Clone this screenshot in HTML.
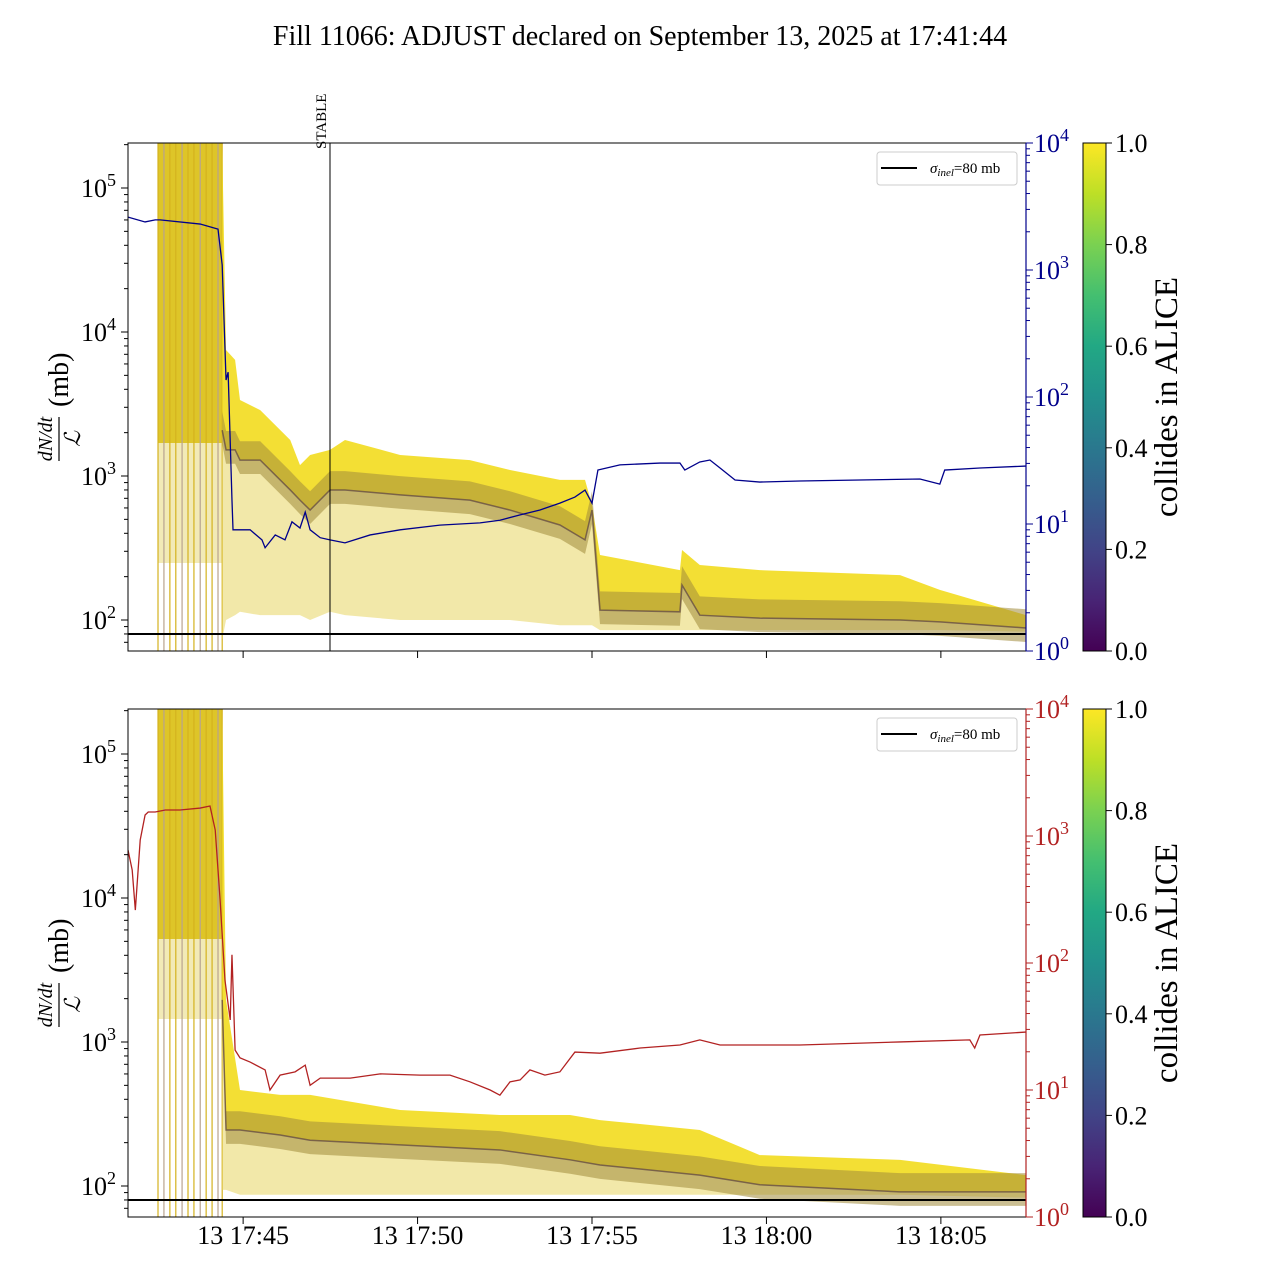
<!DOCTYPE html>
<html><head><meta charset="utf-8"><style>
html,body{margin:0;padding:0;background:#fff;}
svg text{font-family:"Liberation Serif","DejaVu Serif",serif;}
</style></head><body>
<svg id="chart" width="1280" height="1280" viewBox="0 0 1280 1280" xmlns="http://www.w3.org/2000/svg">
<defs>
<linearGradient id="viridis" x1="0" y1="1" x2="0" y2="0">
<stop offset="0" stop-color="#440154"/><stop offset="0.1" stop-color="#482475"/><stop offset="0.2" stop-color="#414487"/><stop offset="0.3" stop-color="#355f8d"/><stop offset="0.4" stop-color="#2a788e"/><stop offset="0.5" stop-color="#21918c"/><stop offset="0.6" stop-color="#22a884"/><stop offset="0.7" stop-color="#44bf70"/><stop offset="0.8" stop-color="#7ad151"/><stop offset="0.9" stop-color="#bddf26"/><stop offset="1" stop-color="#fde725"/>
</linearGradient>
</defs>
<text x="640" y="45" font-size="28" text-anchor="middle">Fill 11066: ADJUST declared on September 13, 2025 at 17:41:44</text>
</svg>
<script>
// ---- data (time in minutes after 17:40) ----
const blueTimes=[1.70,2.19,2.48,2.62,3.77,4.28,4.40,4.51,4.57,4.68,4.71,5.20,5.54,5.63,5.92,6.20,6.40,6.63,6.78,6.92,7.21,7.49,7.92,8.64,9.50,10.64,11.79,12.36,12.94,13.51,14.08,14.51,14.80,15.00,15.17,15.80,16.95,17.52,17.66,18.09,18.38,18.67,19.10,19.81,20.96,22.68,24.40,24.97,25.11,26.12,27.44];
const blueValues=[2610,2390,2480,2480,2300,2100,1095,136,157,15.5,9.0,9.0,7.5,6.5,8.2,7.5,10.4,9.3,12.4,9.0,7.8,7.5,7.1,8.2,9.0,9.8,10.2,10.7,11.8,12.9,14.6,16.3,18.5,14.6,26.6,29.2,30.2,30.2,26.6,30.8,31.9,27.6,22.2,21.4,21.8,22.2,22.6,20.6,26.6,27.6,28.6];
const redTimes=[1.70,1.82,1.91,2.05,2.19,2.28,2.48,2.77,3.19,3.77,4.05,4.20,4.34,4.48,4.63,4.68,4.77,4.91,5.20,5.63,5.77,6.06,6.49,6.78,6.92,7.21,8.07,8.93,10.07,10.93,11.50,12.08,12.36,12.65,12.94,13.22,13.65,14.08,14.51,15.23,16.38,17.52,18.09,18.67,19.81,20.96,23.83,25.83,25.97,26.12,27.44];
const redValues=[776,540,261,930,1463,1545,1545,1603,1603,1660,1722,1115,313,73,35.6,116,20.6,17.9,16.6,14.4,10,13.1,13.9,15.7,10.9,12.4,12.4,13.4,13.1,13.1,11.6,10,9.1,11.6,12,14.4,13.1,13.9,19.9,19.5,21.4,22.6,24.8,22.6,22.6,22.6,23.9,24.8,21.4,27.1,28.6];
const topBandTimes=[4.40,4.51,4.77,4.91,5.49,6.35,6.63,6.92,7.49,7.92,9.50,11.50,12.65,14.08,14.80,15.00,15.23,17.52,17.58,18.09,19.81,23.83,24.97,27.44];
const topBandUpper=[205000,7500,6400,3370,2870,1780,1190,1400,1520,1780,1400,1290,1100,940,940,630,283,222,306,241,222,205,162,108];
const topBandMid=[2080,1520,1520,1290,1290,800,680,580,800,800,740,680,580,457,360,580,117,114,175,108,103,100,97,88];
const topBandLower=[73,100,108,114,108,108,108,100,114,108,100,100,100,92,92,92,85,85,85,85,85,85,85,83];
const botBandTimes=[4.40,4.51,4.91,6.06,6.92,9.50,12.36,14.37,15.23,18.09,19.81,23.83,27.44];
const botBandUpper=[205000,1960,464,429,429,337,311,311,287,245,164,152,119];
const botBandMid=[1960,245,245,226,208,193,178,152,140,119,102,91,91];
const botBandLower=[94,94,87,87,87,87,87,87,87,87,87,87,83];
const blockStart=2.56, blockEnd=4.28;
const spikeTimes=[2.56,2.73,2.90,3.07,3.25,3.42,3.59,3.77,3.94,4.11,4.28,4.40];
const xTickTimes=[5,10,15,20,25];
const xTickLabels=["13 17:45","13 17:50","13 17:55","13 18:00","13 18:05"];
const sigmaInel=80;
const stableTime=7.49;
const cbTicks=[0.0,0.2,0.4,0.6,0.8,1.0];

// ---- layout ----
const svg=document.getElementById('chart');
const NS='http://www.w3.org/2000/svg';
const X0=128,X1=1026,T0=1.70,T1=27.44;
const xOf=t=>X0+(t-T0)/(T1-T0)*(X1-X0);
function mk(tag,attrs,parent){const e=document.createElementNS(NS,tag);for(const k in attrs)e.setAttribute(k,attrs[k]);(parent||svg).appendChild(e);return e;}
function panel(top,bandT,bandU,bandM,bandL,lineT,lineV,lineColor,idx,showStable){
  const bot=top+508;
  const yL=v=>{const lv=Math.log10(v);return Math.max(top,Math.min(bot,(top+477)-144*(lv-2)));};
  const yR=v=>bot-127*Math.log10(v);
  const g=mk('g',{});
  
  
  const clipId='clip'+idx;
  const cp=mk('clipPath',{id:clipId},g);mk('rect',{x:X0,y:top,width:X1-X0,height:508},cp);
  const plot=mk('g',{'clip-path':'url(#'+clipId+')'},g);
  const bh=(idx==0?300:230);
  const blk=mk('rect',{x:xOf(blockStart),y:top,width:xOf(blockEnd)-xOf(blockStart)+4,height:bh,fill:'#dcc21c',opacity:0.95},plot);
  
  
  const blk2=mk('rect',{x:xOf(blockStart),y:top+bh,width:xOf(blockEnd)-xOf(blockStart)+4,height:(idx==0?120:80),fill:'#e8d87a',opacity:0.55},plot);
  
  
  spikeTimes.forEach((t,i)=>{const l=mk('line',{x1:xOf(t),x2:xOf(t),y1:top,y2:bot,stroke:i%3==1?'#b8a38f':'#d4b21e','stroke-width':1.2},plot);
    
    });
  const pts=(T,V)=>T.map((t,i)=>xOf(t)+','+yL(V[i]));
  const up=pts(bandT,bandU),md=pts(bandT,bandM),lo=pts(bandT,bandL);
  const midUp=pts(bandT,bandM.map(v=>v*1.35)),midLo=pts(bandT,bandM.map(v=>v/1.25));
  const p1=mk('polygon',{points:up.concat(md.slice().reverse()).join(' '),fill:'#f2dc1e',opacity:0.9},plot);
  
  
  const p2=mk('polygon',{points:md.concat(lo.slice().reverse()).join(' '),fill:'#e9d870',opacity:0.6},plot);
  
  
  const p3=mk('polygon',{points:midUp.concat(midLo.slice().reverse()).join(' '),fill:'#a08a3a',opacity:0.55},plot);
  
  
  const p4=mk('polyline',{points:md.join(' '),fill:'none',stroke:'#5a4040','stroke-width':1.5,opacity:0.7},plot);
  
  
  const sl=mk('line',{x1:X0,x2:X1,y1:yL(sigmaInel),y2:yL(sigmaInel),stroke:'#000','stroke-width':2},plot);
  
  
  const ln=mk('polyline',{points:lineT.map((t,i)=>xOf(t)+','+yR(lineV[i])).join(' '),fill:'none',stroke:lineColor,'stroke-width':1.3},plot);
  
  
  if(showStable){
    const st=mk('line',{x1:xOf(stableTime),x2:xOf(stableTime),y1:top,y2:bot,stroke:'#000','stroke-width':1},g);
    
    
    const tx=mk('text',{x:0,y:0,'font-size':15,transform:'translate('+(xOf(stableTime)-4)+','+(top+6)+') rotate(-90)'},g);
    tx.textContent='STABLE';
    
    
  }
  const fr=mk('rect',{x:X0,y:top,width:X1-X0,height:508,fill:'none',stroke:'#000','stroke-width':1},g);
  
  
  mk('line',{x1:X1,x2:X1,y1:top,y2:bot,stroke:lineColor,'stroke-width':1.2},g);
  for(let d=1;d<=5;d++){
    for(let m=1;m<10;m++){const v=m*Math.pow(10,d);const y=(top+477)-144*(Math.log10(v)-2);if(y<top||y>bot)continue;
      mk('line',{x1:X0,x2:X0-(m==1?7:4),y1:y,y2:y,stroke:'#000','stroke-width':1},g);
      if(m==1&&d>=2){const t=mk('text',{x:X0-12,y:y+9,'font-size':26,'text-anchor':'end'},g);
        t.innerHTML='10<tspan dy="-11" font-size="18">'+d+'</tspan>';
        
        }}
  }
  for(let d=0;d<=4;d++){
    const y=yR(Math.pow(10,d));
    mk('line',{x1:X1,x2:X1+7,y1:y,y2:y,stroke:lineColor,'stroke-width':1},g);
    const t=mk('text',{x:X1+8,y:y+9,'font-size':26,fill:lineColor},g);
    t.innerHTML='10<tspan dy="-11" font-size="18">'+d+'</tspan>';
    
    
    if(d<4)for(let m=2;m<10;m++){const yy=yR(m*Math.pow(10,d));mk('line',{x1:X1,x2:X1+4,y1:yy,y2:yy,stroke:lineColor,'stroke-width':1},g);}
  }
  xTickTimes.forEach((t,i)=>{mk('line',{x1:xOf(t),x2:xOf(t),y1:bot,y2:bot+7,stroke:'#000'},g);
    if(idx==1){const tx=mk('text',{x:xOf(t),y:bot+27,'font-size':26,'text-anchor':'middle'},g);tx.textContent=xTickLabels[i];
      
      }});
  const yl=mk('g',{transform:'translate(60,'+(top+256)+') rotate(-90)'},g);
  
  
  const a=mk('text',{x:-40,y:-8,'font-size':20,'font-style':'italic','text-anchor':'middle'},yl);a.textContent='dN/dt';
  mk('line',{x1:-62,x2:-18,y1:-1,y2:-1,stroke:'#000','stroke-width':1.2},yl);
  const b=mk('text',{x:-40,y:20,'font-size':22,'font-style':'italic','text-anchor':'middle'},yl);b.textContent='ℒ';
  const c=mk('text',{x:-8,y:8,'font-size':28},yl);c.textContent='(mb)';
  const lg=mk('g',{},g);
  
  
  mk('rect',{x:877,y:top+9,width:140,height:33,rx:3,fill:'#fff',stroke:'#ccc'},lg);
  mk('line',{x1:881,x2:917,y1:top+25,y2:top+25,stroke:'#000','stroke-width':2},lg);
  const lt=mk('text',{x:930,y:top+30,'font-size':15},lg);
  lt.innerHTML='<tspan font-style="italic">σ</tspan><tspan font-style="italic" font-size="11" dy="3">inel</tspan><tspan dy="-3">=80 mb</tspan>';
  const cb=mk('g',{},g);
  
  
  mk('rect',{x:1083,y:top,width:23,height:508,fill:'url(#viridis)',stroke:'#000','stroke-width':1},cb);
  cbTicks.forEach(v=>{const y=bot-v*508;mk('line',{x1:1106,x2:1112,y1:y,y2:y,stroke:'#000'},cb);
    const t=mk('text',{x:1115,y:y+9,'font-size':26},cb);t.textContent=v.toFixed(1);
    
    });
  const cl=mk('text',{x:0,y:0,'font-size':33,'text-anchor':'middle',transform:'translate(1177,'+(top+254)+') rotate(-90)'},cb);
  cl.textContent='collides in ALICE';
  
  
}
panel(143,topBandTimes,topBandUpper,topBandMid,topBandLower,blueTimes,blueValues,'#00008b',0,true);
panel(709,botBandTimes,botBandUpper,botBandMid,botBandLower,redTimes,redValues,'#b22222',1,false);
</script>
</body></html>
